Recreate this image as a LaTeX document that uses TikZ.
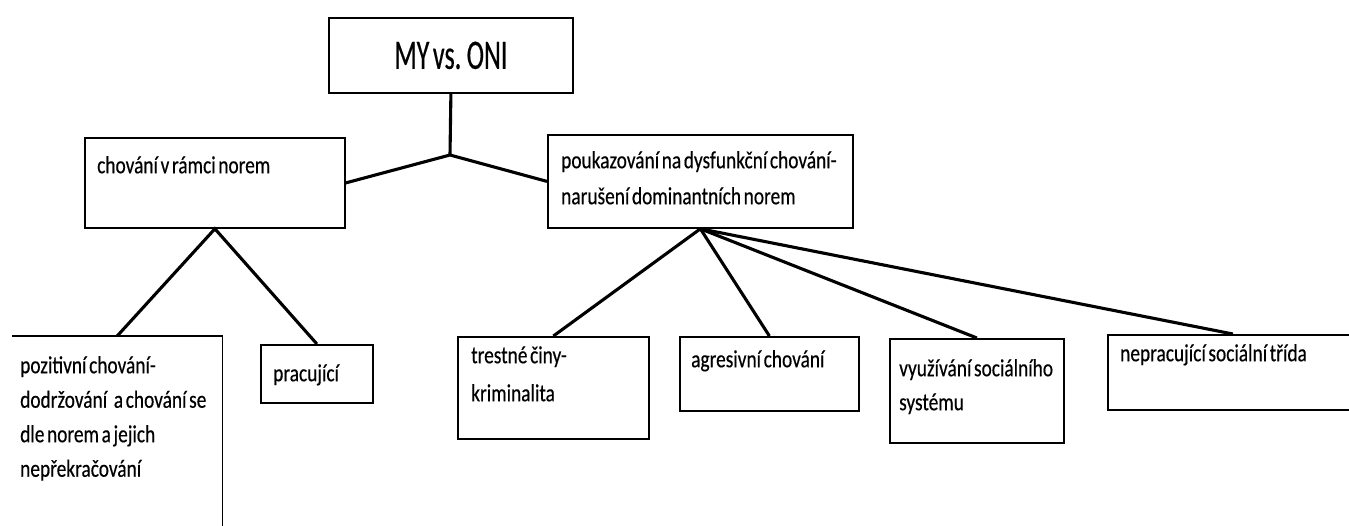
\documentclass[tikz,border=0pt]{standalone}
\usepackage{fontspec}
\setmainfont{Carlito}[FakeStretch=0.79, WordSpace=0.6, FakeBold=0.4]
\newfontfamily\titlefont{Carlito}[FakeStretch=0.62, WordSpace=0.6, FakeBold=0.4]
\begin{document}
\begin{tikzpicture}[x=1pt,y=-1pt,
  box/.style={draw, line width=1.8pt, inner sep=0pt, anchor=north west},
  boxline/.style={line width=1.8pt},
  link/.style={line width=3.1pt},
  txt/.style={inner sep=0pt, anchor=north west, align=left, font=\fontsize{24.5}{35}\selectfont}]
\useasboundingbox (0,0) rectangle (1349,525);
\clip (0,0) rectangle (1349,525);
% boxes
\node[box, minimum width=244pt, minimum height=75pt] (top) at (328,17) {};
\node[box, minimum width=260pt, minimum height=90pt] (l1) at (84,137) {};
\node[box, minimum width=305pt, minimum height=93pt] (r1) at (547,134) {};
\node[inner sep=0pt, anchor=north west, minimum width=210pt, minimum height=220pt] (pos) at (12,336) {};
\node[box, minimum width=112pt, minimum height=58pt] (pra) at (260,344) {};
\node[box, minimum width=191pt, minimum height=102pt] (tre) at (457,336) {};
\node[box, minimum width=179pt, minimum height=74pt] (agr) at (679,336) {};
\node[box, minimum width=174pt, minimum height=104pt] (vyu) at (889,338) {};
\node[box, minimum width=250pt, minimum height=75pt] (nep) at (1107,334) {};
\draw[boxline] (pos.north west) -- (pos.north east) -- (pos.south east);
% texts
\node[font=\titlefont\fontsize{42}{42}\selectfont, inner sep=0pt] (ttitle) at (top.center) {MY vs. ONI};
\node[txt] (tl1) at (97,153) {\rule{0pt}{20pt}chování v rámci norem};
\node[txt, font=\fontsize{24.5}{36}\selectfont] (tr1) at (561,148) {\rule{0pt}{20pt}poukazování na dysfunkční chování-\\narušení dominantních norem};
\node[txt, font=\fontsize{24.5}{34.5}\selectfont] (tpos) at (20,353) {\rule{0pt}{20pt}pozitivní chování-\\dodržování\, a chování se\\dle norem a jejich\\nepřekračování};
\node[txt] (tpra) at (273,361) {\rule{0pt}{20pt}pracující};
\node[txt, font=\fontsize{24.5}{38}\selectfont] (ttre) at (471,343) {\rule{0pt}{20pt}trestné činy-\\kriminalita};
\node[txt] (tagr) at (691,347) {\rule{0pt}{20pt}agresivní chování};
\node[txt, font=\fontsize{24.5}{34}\selectfont] (tvyu) at (899,356) {\rule{0pt}{20pt}využívání sociálního\\systému};
\node[txt] (tnep) at (1120,341) {\rule{0pt}{20pt}nepracující sociální třída};
% connectors
\coordinate (j) at (450,155);
\draw[link] (top.south) -- (j);
\draw[link] (l1.east) -- (j) -- (r1.west);
\draw[link] (pos.north) -- (l1.south) -- (pra.north);
\draw[link] (r1.south) -- (tre.north);
\draw[link] (r1.south) -- (agr.north);
\draw[link] (r1.south) -- (vyu.north);
\draw[link] (r1.south) -- (nep.north);
\end{tikzpicture}
\end{document}
